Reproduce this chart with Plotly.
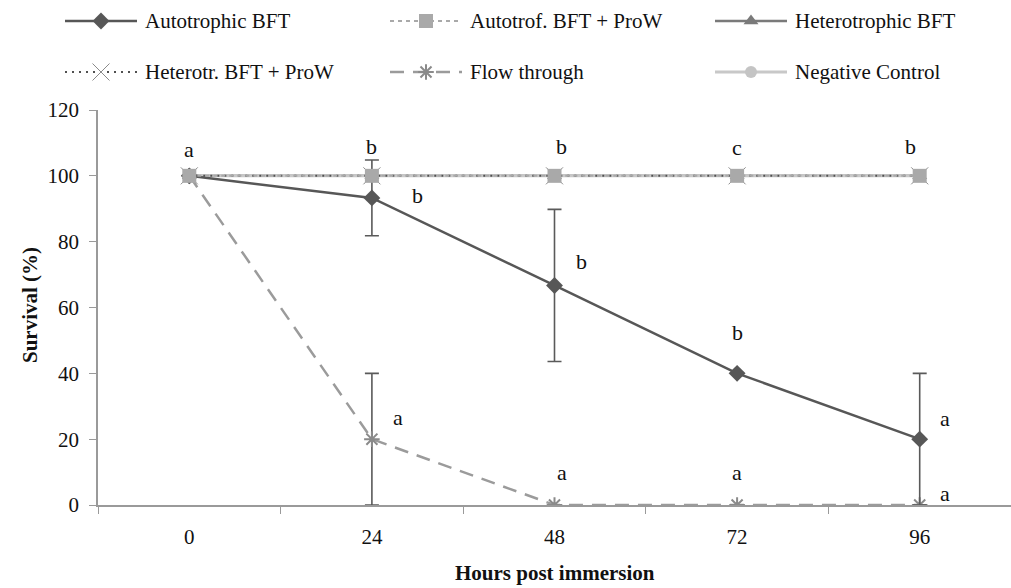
import plotly.graph_objects as go

# Survival (%) over time for each treatment
hours = ["0", "24", "48", "72", "96"]
autotrophic_bft = [100, 93.3, 66.7, 40, 20]
autotrophic_bft_err = [None, 11.5, 23.1, None, 20]
autotrof_bft_prow = [100, 100, 100, 100, 100]
heterotrophic_bft = [100, 100, 100, 100, 100]
heterotr_bft_prow = [100, 100, 100, 100, 100]
flow_through = [100, 20, 0, 0, 0]
flow_through_err = [None, 20, None, None, None]
negative_control = [100, 100, 100, 100, 100]

# Significance letters: (category, y, text, horizontal shift px)
letters_top = [("0", 108, "a", 0), ("24", 109, "b", 0), ("48", 109, "b", 7),
               ("72", 108.5, "c", 0), ("96", 109, "b", -9)]
letters_auto = [("24", 94, "b", 46), ("48", 74, "b", 27), ("72", 52.3, "b", 0),
                ("96", 26.2, "a", 25)]
letters_flow = [("24", 26.5, "a", 26), ("48", 9.8, "a", 7), ("72", 9.8, "a", 0),
                ("96", 3.6, "a", 25)]

FONT = "Times New Roman, Liberation Serif, serif"
W, H = 1011, 588

styles = {
    "Autotrophic BFT": dict(line=dict(color="#575757", width=2.5),
                            marker=dict(symbol="diamond", size=13, color="#575757")),
    "Autotrof. BFT + ProW": dict(line=dict(color="#a9a9a9", width=2, dash="4px,4px"),
                                 marker=dict(symbol="square", size=14, color="#a9a9a9")),
    "Heterotrophic BFT": dict(line=dict(color="#7a7a7a", width=2.5),
                              marker=dict(symbol="triangle-up", size=13, color="#7a7a7a")),
    "Heterotr. BFT + ProW": dict(line=dict(color="#505050", width=2, dash="2px,5px"),
                                 marker=dict(symbol="x-thin-open", size=17,
                                             color="#8a8a8a", line=dict(width=1, color="#8a8a8a"))),
    "Flow through": dict(line=dict(color="#9b9b9b", width=2.5, dash="14px,9px"),
                         marker=dict(symbol="asterisk-open", size=13,
                                     color="#8a8a8a", line=dict(width=2, color="#8a8a8a"))),
    "Negative Control": dict(line=dict(color="#c8c8c8", width=3),
                             marker=dict(symbol="circle", size=12, color="#c4c4c4")),
}

fig = go.Figure()

err_style = dict(type="data", visible=True, color="#5a5a5a", thickness=1.6, width=7)

# drawing order (later on top)
fig.add_trace(go.Scatter(x=hours, y=heterotrophic_bft, mode="lines+markers",
                         name="Heterotrophic BFT", **styles["Heterotrophic BFT"]))
fig.add_trace(go.Scatter(x=hours, y=negative_control, mode="lines+markers",
                         name="Negative Control", **styles["Negative Control"]))
fig.add_trace(go.Scatter(x=hours, y=flow_through, mode="lines+markers",
                         name="Flow through",
                         error_y=dict(array=flow_through_err, **err_style),
                         **styles["Flow through"]))
fig.add_trace(go.Scatter(x=hours, y=autotrophic_bft, mode="lines+markers",
                         name="Autotrophic BFT",
                         error_y=dict(array=autotrophic_bft_err, **err_style),
                         **styles["Autotrophic BFT"]))
fig.add_trace(go.Scatter(x=hours, y=heterotr_bft_prow, mode="lines+markers",
                         name="Heterotr. BFT + ProW", **styles["Heterotr. BFT + ProW"]))
fig.add_trace(go.Scatter(x=hours, y=autotrof_bft_prow, mode="lines+markers",
                         name="Autotrof. BFT + ProW", **styles["Autotrof. BFT + ProW"]))

annotations = []
for group in (letters_top, letters_auto, letters_flow):
    for cat, yv, txt, dx in group:
        annotations.append(dict(x=hours.index(cat), y=yv, xref="x", yref="y", text=txt,
                                showarrow=False, xshift=dx, yanchor="middle",
                                font=dict(family=FONT, size=22, color="#111111")))

# Legend: two rows of three entries, drawn on a pixel-scaled overlay axis
legend_order = [["Autotrophic BFT", "Autotrof. BFT + ProW", "Heterotrophic BFT"],
                ["Heterotr. BFT + ProW", "Flow through", "Negative Control"]]
col_x = [65, 390, 715]
row_y = [21, 72]
sample_len = 72
for r, row in enumerate(legend_order):
    for c, name in enumerate(row):
        x0 = col_x[c]
        st = styles[name]
        fig.add_trace(go.Scatter(x=[x0, x0 + sample_len], y=[row_y[r], row_y[r]],
                                 mode="lines", line=st["line"], xaxis="x2", yaxis="y2",
                                 showlegend=False, hoverinfo="skip"))
        fig.add_trace(go.Scatter(x=[x0 + sample_len / 2], y=[row_y[r]],
                                 mode="markers", marker=st["marker"], xaxis="x2", yaxis="y2",
                                 showlegend=False, hoverinfo="skip"))
        annotations.append(dict(x=(x0 + sample_len + 6) / W, y=1 - row_y[r] / H,
                                xref="paper", yref="paper", xanchor="left", yanchor="middle",
                                text=name, showarrow=False,
                                font=dict(family=FONT, size=21, color="#111111")))

# Axis titles
annotations.append(dict(x=(98 + W) / 2 / W, y=1 - 573 / H, xref="paper", yref="paper",
                        xanchor="center", yanchor="middle",
                        text="<b>Hours post immersion</b>", showarrow=False,
                        font=dict(family=FONT, size=21, color="#111111")))
annotations.append(dict(x=30 / W, y=1 - 305 / H, xref="paper", yref="paper",
                        xanchor="center", yanchor="middle",
                        text="<b>Survival (%)</b>", showarrow=False, textangle=-90,
                        font=dict(family=FONT, size=21, color="#111111")))

fig.update_layout(
    template="none",
    width=W, height=H,
    margin=dict(l=0, r=0, t=0, b=0, pad=0),
    paper_bgcolor="white", plot_bgcolor="rgba(0,0,0,0)",
    showlegend=False,
    annotations=annotations,
    font=dict(family=FONT, size=21, color="#111111"),
    xaxis=dict(domain=[98 / W, 1.0], type="category", range=[-0.5, 4.5],
               automargin=False,
               showline=True, linecolor="#9a9a9a", linewidth=1.5,
               ticks="outside", tickson="boundaries", ticklen=7, tickcolor="#9a9a9a",
               tickwidth=1.2, ticklabelstandoff=12,
               showgrid=False, zeroline=False,
               tickfont=dict(family=FONT, size=21, color="#111111"), anchor="y"),
    yaxis=dict(domain=[1 - 505 / H, 1 - 110 / H], range=[0, 120], dtick=20,
               automargin=False,
               showline=True, linecolor="#9a9a9a", linewidth=1.5,
               ticks="outside", ticklen=7, tickcolor="#9a9a9a", tickwidth=1.2,
               showgrid=False, zeroline=False, ticklabelstandoff=6,
               tickfont=dict(family=FONT, size=21, color="#111111"), anchor="x"),
    xaxis2=dict(domain=[0, 1], range=[0, W], visible=False, fixedrange=True,
                automargin=False, anchor="y2"),
    yaxis2=dict(domain=[0, 1], range=[H, 0], visible=False, fixedrange=True,
                automargin=False, anchor="x2"),
)

fig.write_html("out.html")
